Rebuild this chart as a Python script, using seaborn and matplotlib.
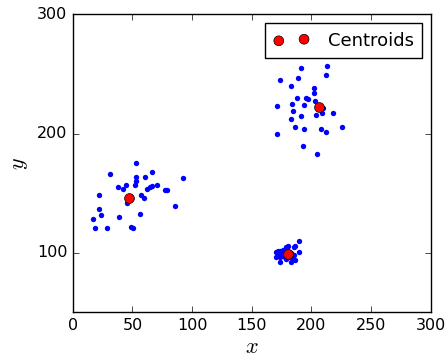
import matplotlib
matplotlib.use("Agg")
import matplotlib.pyplot as plt
import numpy as np
import pandas as pd
import seaborn as sns

# points, three clusters
x1 = [17.1, 18.7, 22.1, 21.8, 23.5, 28.5, 31.0, 38.0, 41.7, 44.5, 39.1, 45.3, 48.4, 50.3, 52.6,
      52.6, 52.8, 52.0, 57.3, 59.3, 55.9, 60.4, 62.0, 64.3, 66.0, 66.3, 70.2, 77.4, 79.1, 85.5, 92.5]
y1 = [128.5, 121.0, 148.3, 136.3, 132.0, 121.0, 166.2, 155.0, 153.6, 156.7, 130.0, 141.6, 121.2, 120.7, 175.4,
      163.9, 160.3, 156.7, 148.6, 145.8, 132.1, 163.7, 153.6, 155.0, 156.1, 167.9, 156.9, 152.5, 152.8, 138.8, 162.8]

x2 = [191.5, 213.0, 212.2, 173.9, 188.4, 182.6, 201.8, 202.1, 187.9, 195.1, 197.4, 203.2, 183.4, 193.5, 170.8,
      209.7, 208.6, 203.8, 218.1, 184.5, 182.8, 191.5, 185.9, 194.0, 208.0, 211.9, 225.9, 170.8, 193.2, 204.4]
y2 = [255.3, 256.7, 249.4, 245.3, 246.4, 239.7, 238.5, 234.4, 229.9, 229.6, 228.8, 227.4, 225.1, 223.7, 222.9,
      221.2, 217.3, 215.6, 217.0, 218.7, 212.3, 214.5, 205.6, 203.6, 203.6, 201.7, 205.3, 199.4, 189.9, 182.7]

x3 = [170.5, 172.0, 174.0, 176.0, 177.0, 178.0, 179.5, 180.5, 179.0, 185.0, 186.0, 189.8, 189.5, 170.5, 173.5,
      174.0, 176.0, 177.5, 178.0, 181.0, 182.5, 184.0, 185.0, 186.5, 183.0, 175.5, 172.5, 181.5, 184.0, 178.5]
y3 = [101.0, 101.5, 101.8, 102.0, 101.0, 102.5, 103.5, 105.5, 104.5, 104.5, 106.0, 110.0, 100.5, 96.5, 96.5,
      92.5, 97.0, 96.5, 99.0, 96.0, 92.0, 97.0, 98.5, 93.5, 99.5, 100.0, 98.0, 100.5, 95.5, 95.0]

cent_x = [47.0, 206.6, 180.0]
cent_y = [145.8, 222.3, 98.6]

df = pd.DataFrame({"x": x1 + x2 + x3, "y": y1 + y2 + y3})
cent = pd.DataFrame({"x": cent_x, "y": cent_y})

plt.style.use("classic")
fig = plt.figure(figsize=(4.47, 3.6), dpi=100, facecolor="white")
ax = fig.add_axes([0.163, 0.1325, 0.8005, 0.8275])

sns.scatterplot(data=df, x="x", y="y", color="b", s=15, linewidth=0, ax=ax)
sns.scatterplot(data=cent, x="x", y="y", color="r", s=50, edgecolor="k", linewidth=0.5,
                label="Centroids", ax=ax)

ax.set_xlim(0, 300)
ax.set_ylim(50, 300)
ax.set_xticks([0, 50, 100, 150, 200, 250, 300])
ax.set_yticks([100, 200, 300])
ax.tick_params(labelsize=11.5)
ax.set_xlabel("$x$", fontsize=16, labelpad=3)
ax.set_ylabel("$y$", fontsize=16)
ax.legend(loc="upper right", scatterpoints=2, fontsize=13, fancybox=False,
          handletextpad=1.0, borderpad=0.45, borderaxespad=0.5)

fig.savefig("out.png", dpi=100, facecolor="white")
